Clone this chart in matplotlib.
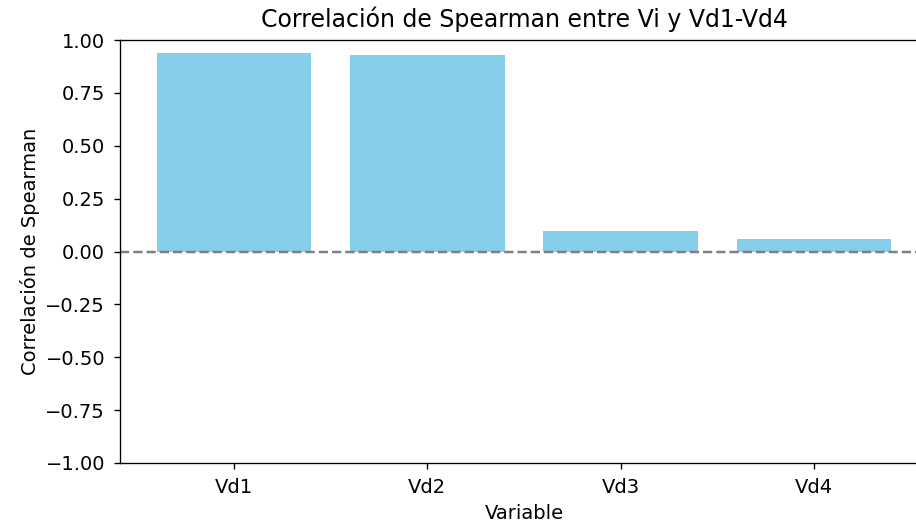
import matplotlib.pyplot as plt

variables = ["Vd1", "Vd2", "Vd3", "Vd4"]
spearman = [0.94, 0.928, 0.095, 0.057]

s = 1.2
plt.rcParams.update({
    "font.size": 14,
    "axes.linewidth": 0.8 * s,
    "xtick.major.size": 3.5 * s,
    "ytick.major.size": 3.5 * s,
    "xtick.major.width": 0.8 * s,
    "ytick.major.width": 0.8 * s,
    "xtick.major.pad": 6.5,
    "ytick.major.pad": 6.5,
})

fig = plt.figure(figsize=(9.16, 5.23), dpi=100)
ax = fig.add_axes([120 / 916, 1 - 463 / 523, 808 / 916, 423 / 523])
ax.bar(variables, spearman, color="skyblue")
ax.axhline(0, color="gray", linestyle="--", linewidth=1.5 * s)
ax.set_xlim(-0.59, 3.59)
ax.set_ylim(-1, 1)
ax.set_title("Correlación de Spearman entre Vi y Vd1-Vd4", fontsize=17, pad=9)
ax.set_xlabel("Variable", labelpad=5)
ax.set_ylabel("Correlación de Spearman", labelpad=4)

fig.savefig("out.png", dpi=100)
